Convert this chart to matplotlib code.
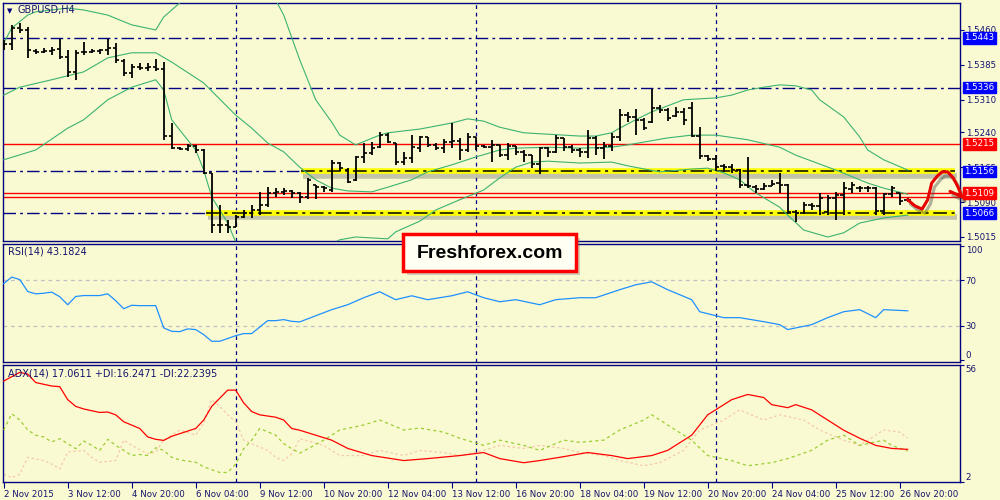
import matplotlib
matplotlib.use("Agg")
import matplotlib.pyplot as plt
import matplotlib.patheffects as pe
import matplotlib.transforms as mtransforms
from matplotlib.patches import Rectangle

# ---- GBPUSD H4 bars ----
highs = [1.5439, 1.5471, 1.5475, 1.5466, 1.5419, 1.5421, 1.5423, 1.5441, 1.5417, 1.5417,
         1.5434, 1.5419, 1.5419, 1.5441, 1.5432, 1.5398, 1.5387, 1.5389, 1.5389, 1.5398,
         1.5391, 1.5260, 1.5208, 1.5215, 1.5213, 1.5204, 1.5153, 1.5084, 1.5052, 1.5062,
         1.5073, 1.5084, 1.5112, 1.5122, 1.5120, 1.5120, 1.5116, 1.5112, 1.5142, 1.5127,
         1.5125, 1.5181, 1.5176, 1.5163, 1.5189, 1.5217, 1.5219, 1.5241, 1.5239, 1.5217,
         1.5198, 1.5234, 1.5232, 1.5230, 1.5217, 1.5226, 1.5260, 1.5228, 1.5239, 1.5230,
         1.5213, 1.5224, 1.5213, 1.5217, 1.5211, 1.5202, 1.5191, 1.5208, 1.5208, 1.5234,
         1.5228, 1.5213, 1.5206, 1.5245, 1.5232, 1.5219, 1.5239, 1.5290, 1.5284, 1.5290,
         1.5271, 1.5333, 1.5299, 1.5292, 1.5294, 1.5292, 1.5305, 1.5251, 1.5191, 1.5191,
         1.5172, 1.5172, 1.5161, 1.5187, 1.5127, 1.5131, 1.5138, 1.5153, 1.5129, 1.5073,
         1.5090, 1.5088, 1.5110, 1.5105, 1.5112, 1.5133, 1.5133, 1.5125, 1.5125, 1.5122,
         1.5110, 1.5125, 1.5110, 1.5099]
lows = [1.5417, 1.5417, 1.5454, 1.5400, 1.5408, 1.5411, 1.5406, 1.5398, 1.5359, 1.5353,
        1.5406, 1.5411, 1.5408, 1.5406, 1.5389, 1.5361, 1.5357, 1.5374, 1.5372, 1.5372,
        1.5224, 1.5204, 1.5202, 1.5200, 1.5196, 1.5150, 1.5024, 1.5024, 1.5024, 1.5036,
        1.5056, 1.5056, 1.5062, 1.5079, 1.5101, 1.5105, 1.5099, 1.5088, 1.5097, 1.5097,
        1.5112, 1.5112, 1.5157, 1.5131, 1.5135, 1.5174, 1.5191, 1.5206, 1.5217, 1.5170,
        1.5170, 1.5174, 1.5198, 1.5208, 1.5202, 1.5196, 1.5206, 1.5181, 1.5198, 1.5202,
        1.5206, 1.5176, 1.5187, 1.5181, 1.5191, 1.5176, 1.5163, 1.5150, 1.5187, 1.5196,
        1.5200, 1.5196, 1.5187, 1.5185, 1.5191, 1.5183, 1.5200, 1.5221, 1.5262, 1.5234,
        1.5245, 1.5260, 1.5282, 1.5264, 1.5273, 1.5256, 1.5230, 1.5183, 1.5178, 1.5157,
        1.5155, 1.5153, 1.5120, 1.5120, 1.5110, 1.5116, 1.5125, 1.5110, 1.5064, 1.5047,
        1.5064, 1.5073, 1.5062, 1.5062, 1.5052, 1.5062, 1.5110, 1.5112, 1.5112, 1.5062,
        1.5062, 1.5101, 1.5084, 1.5090]
opens = [1.5421, 1.5430, 1.5464, 1.5460, 1.5415, 1.5413, 1.5415, 1.5419, 1.5402, 1.5370,
         1.5413, 1.5413, 1.5415, 1.5417, 1.5421, 1.5393, 1.5368, 1.5380, 1.5378, 1.5380,
         1.5376, 1.5232, 1.5206, 1.5204, 1.5211, 1.5202, 1.5153, 1.5041, 1.5041, 1.5036,
         1.5058, 1.5067, 1.5073, 1.5084, 1.5110, 1.5112, 1.5114, 1.5110, 1.5101, 1.5127,
         1.5122, 1.5116, 1.5174, 1.5159, 1.5138, 1.5187, 1.5196, 1.5208, 1.5234, 1.5217,
         1.5176, 1.5185, 1.5206, 1.5230, 1.5213, 1.5206, 1.5219, 1.5221, 1.5202, 1.5230,
         1.5211, 1.5208, 1.5213, 1.5191, 1.5211, 1.5198, 1.5191, 1.5172, 1.5206, 1.5198,
         1.5228, 1.5208, 1.5202, 1.5198, 1.5228, 1.5206, 1.5211, 1.5230, 1.5277, 1.5273,
         1.5267, 1.5262, 1.5292, 1.5288, 1.5275, 1.5284, 1.5292, 1.5232, 1.5189, 1.5183,
         1.5168, 1.5165, 1.5159, 1.5127, 1.5122, 1.5118, 1.5125, 1.5131, 1.5127, 1.5069,
         1.5067, 1.5084, 1.5082, 1.5069, 1.5099, 1.5105, 1.5118, 1.5120, 1.5120, 1.5120,
         1.5071, 1.5107, 1.5110, 1.5095]
closes = [1.5430, 1.5464, 1.5460, 1.5417, 1.5413, 1.5415, 1.5417, 1.5402, 1.5370, 1.5411,
          1.5413, 1.5415, 1.5417, 1.5421, 1.5396, 1.5368, 1.5380, 1.5378, 1.5380, 1.5376,
          1.5232, 1.5206, 1.5204, 1.5211, 1.5202, 1.5153, 1.5041, 1.5041, 1.5036, 1.5058,
          1.5067, 1.5073, 1.5084, 1.5110, 1.5112, 1.5114, 1.5110, 1.5101, 1.5138, 1.5122,
          1.5120, 1.5174, 1.5163, 1.5133, 1.5187, 1.5196, 1.5206, 1.5234, 1.5219, 1.5176,
          1.5185, 1.5208, 1.5230, 1.5213, 1.5206, 1.5219, 1.5221, 1.5202, 1.5230, 1.5211,
          1.5208, 1.5213, 1.5191, 1.5211, 1.5198, 1.5191, 1.5172, 1.5206, 1.5198, 1.5228,
          1.5208, 1.5202, 1.5198, 1.5228, 1.5206, 1.5211, 1.5230, 1.5277, 1.5273, 1.5267,
          1.5249, 1.5292, 1.5288, 1.5271, 1.5284, 1.5267, 1.5232, 1.5189, 1.5183, 1.5165,
          1.5165, 1.5159, 1.5127, 1.5125, 1.5118, 1.5125, 1.5129, 1.5127, 1.5069, 1.5067,
          1.5084, 1.5082, 1.5099, 1.5099, 1.5105, 1.5120, 1.5127, 1.5120, 1.5120, 1.5071,
          1.5107, 1.5120, 1.5092, 1.5095]

# Bollinger bands (sampled at bar indices)
bb_up_idx = [0, 1, 3, 4, 8, 10, 13, 16, 19, 20, 22, 24, 27, 31, 33, 35, 37, 39, 41, 42,
             44, 47, 48, 52, 56, 58, 60, 62, 65, 68, 72, 74, 76, 77, 79, 81, 85, 89, 91, 93,
             95, 97, 99, 101, 102, 105, 107, 108, 110, 113]
bb_up = [1.5432, 1.5464, 1.5492, 1.5499, 1.5507, 1.5503, 1.5492, 1.5471, 1.5460, 1.5488,
         1.5518, 1.5568, 1.5611, 1.5611, 1.5557, 1.5492, 1.5396, 1.5310, 1.5262, 1.5234,
         1.5213, 1.5234, 1.5239, 1.5247, 1.5260, 1.5269, 1.5264, 1.5251, 1.5239, 1.5236,
         1.5232, 1.5232, 1.5239, 1.5249, 1.5267, 1.5284, 1.5310, 1.5314, 1.5320, 1.5331,
         1.5337, 1.5342, 1.5340, 1.5331, 1.5310, 1.5273, 1.5230, 1.5202, 1.5181, 1.5159]
bb_mid_idx = [0, 2, 6, 10, 13, 16, 19, 21, 25, 29, 31, 33, 35, 37, 39, 41, 43, 46, 48, 51,
              53, 56, 59, 62, 64, 68, 72, 76, 78, 83, 86, 89, 93, 97, 99, 104, 108, 110, 113]
bb_mid = [1.5320, 1.5337, 1.5353, 1.5370, 1.5400, 1.5411, 1.5411, 1.5391, 1.5346, 1.5277,
          1.5249, 1.5217, 1.5198, 1.5165, 1.5138, 1.5120, 1.5114, 1.5112, 1.5122, 1.5138,
          1.5155, 1.5170, 1.5187, 1.5202, 1.5206, 1.5208, 1.5206, 1.5208, 1.5213, 1.5228,
          1.5234, 1.5234, 1.5224, 1.5208, 1.5191, 1.5159, 1.5131, 1.5120, 1.5107]
bb_lo_idx = [0, 4, 8, 10, 13, 16, 19, 20, 21, 22, 24, 25, 26, 28, 29, 31, 34, 37, 40, 42,
             44, 48, 49, 52, 54, 57, 60, 62, 64, 66, 68, 72, 76, 78, 82, 86, 88, 90, 92, 94,
             97, 98, 100, 103, 105, 107, 110, 113]
bb_lo = [1.5181, 1.5202, 1.5249, 1.5267, 1.5310, 1.5337, 1.5353, 1.5331, 1.5267, 1.5245,
         1.5202, 1.5159, 1.5101, 1.5045, 1.5004, 1.4976, 1.4961, 1.4970, 1.4991, 1.5009,
         1.5015, 1.5011, 1.5026, 1.5049, 1.5073, 1.5095, 1.5116, 1.5142, 1.5165, 1.5176,
         1.5178, 1.5174, 1.5176, 1.5168, 1.5155, 1.5161, 1.5163, 1.5153, 1.5138, 1.5110,
         1.5079, 1.5062, 1.5030, 1.5015, 1.5024, 1.5045, 1.5056, 1.5062]

# RSI(14)
rsi_idx = list(range(38)) + [41, 43, 45, 47, 49, 51, 53, 56, 58, 60, 62, 64, 67, 69, 72, 74,
                             77, 79, 81, 83, 86, 87, 90, 92, 95, 97, 98, 101, 103, 105, 107,
                             109, 110, 113]
rsi = [67, 72.6, 70.5, 60, 58, 58.5, 59.5, 55.5, 48.5, 55.7, 56.5, 56.5, 56.5, 58, 52, 45,
       48, 47.7, 47.7, 47.7, 28.3, 25.3, 25, 27.4, 26.8, 22.4, 16.6, 16.6, 19, 21.5, 23.3,
       23.3, 29, 34.6, 34.6, 35.5, 34, 33.5,
       44.2, 48.5, 54.6, 59.8, 52.9, 56.3, 52.9, 56.3, 59.8, 54.6, 51.1, 52.9, 48.5, 52.9,
       54.6, 54.6, 61.6, 65.9, 68.5, 61.6, 52.9, 42.4, 37.2, 37.2, 33.7, 31.1, 26.8, 31.1,
       37.2, 42.4, 44.2, 37.2, 44.2, 43.18]

# ADX(14), +DI, -DI
adx_idx = [0, 2, 3, 4, 6, 7, 8, 9, 10, 12, 13, 14, 15, 17, 18, 19, 20, 21, 24, 25, 26, 28,
           29, 30, 31, 32, 34, 35, 36, 37, 41, 43, 46, 50, 53, 57, 60, 62, 65, 67, 70, 73,
           76, 78, 81, 83, 86, 88, 91, 93, 95, 96, 98, 99, 101, 103, 105, 107, 109, 111, 113]
adx = [48.6, 52.6, 51.8, 47.9, 46.3, 46.0, 40.0, 36.9, 35.7, 34.1, 34.3, 33.0, 29.8, 26.7,
       22.8, 21.7, 21.2, 23.1, 26.7, 30.6, 36.9, 44.4, 44.4, 38.5, 34.5, 33.0, 31.9, 30.6,
       26.7, 25.9, 21.3, 17.5, 14.2, 11.9, 12.8, 14.2, 15.6, 12.8, 10.9, 11.9, 13.7, 15.6,
       14.2, 12.8, 14.2, 16.6, 23.6, 33.0, 40.0, 42.4, 41.0, 37.7, 36.3, 37.7, 35.3, 30.6,
       25.9, 22.2, 18.9, 17.5, 17.06]
pdi_idx = list(range(23)) + [24, 25, 27, 28, 29, 30, 31, 32, 34, 35, 36, 37, 40, 42, 45, 47,
                             50, 52, 55, 57, 60, 62, 65, 67, 70, 72, 75, 77, 80, 81, 83, 86,
                             88, 91, 93, 96, 98, 101, 103, 105, 107, 110, 111, 113]
pdi = [26.0, 33.5, 30.6, 26.0, 23.6, 22.8, 20.5, 22.0, 19.7, 17.4, 20.9, 18.9, 16.6, 21.7,
       18.9, 16.6, 14.2, 14.7, 14.2, 17.8, 16.6, 13.4, 12.2, 11.1, 9.0, 6.4, 6.4, 10.3, 17.4,
       21.3, 26.7, 23.6, 19.7, 17.4, 15.3,
       21.3, 26.0, 28.3, 30.6, 26.0, 26.9, 25.0, 22.2, 18.9, 21.3, 18.9, 16.6, 21.3, 20.3,
       21.3, 26.0, 30.6, 33.0, 28.3, 21.3, 14.2, 11.9, 9.5, 10.9, 12.8, 16.6, 21.3, 23.6,
       18.9, 21.3, 18.9, 16.25]
mdi_idx = [0, 1, 2, 3, 5, 6, 7, 8, 10, 11, 12, 14, 15, 16, 18, 19, 20, 21, 22, 24, 25, 26,
           27, 28, 29, 30, 32, 33, 34, 35, 36, 37, 40, 42, 45, 47, 50, 52, 55, 57, 60, 62,
           65, 67, 70, 72, 75, 77, 80, 82, 85, 87, 90, 92, 95, 97, 100, 102, 105, 107, 110,
           112, 113]
mdi = [5.6, 4.0, 5.6, 13.4, 11.9, 10.3, 8.0, 15.8, 16.6, 13.4, 11.1, 11.9, 21.3, 18.9, 15.0,
       15.8, 21.3, 23.6, 26.0, 23.6, 29.1, 40.0, 36.9, 33.0, 29.8, 21.3, 18.1, 16.6, 13.4,
       11.9, 15.0, 22.0,
       18.9, 14.2, 14.2, 16.6, 14.2, 16.6, 15.6, 14.2, 16.6, 18.9, 17.5, 18.9, 17.5, 15.6,
       14.2, 11.9, 9.5, 10.9, 16.6, 26.0, 30.6, 35.3, 30.6, 33.0, 30.6, 26.0, 21.3, 18.9,
       26.0, 25.0, 22.24]

time_labels = ["2 Nov 2015", "3 Nov 12:00", "4 Nov 20:00", "6 Nov 04:00", "9 Nov 12:00",
               "10 Nov 20:00", "12 Nov 04:00", "13 Nov 12:00", "16 Nov 20:00",
               "18 Nov 04:00", "19 Nov 12:00", "20 Nov 20:00", "24 Nov 04:00",
               "25 Nov 12:00", "26 Nov 20:00"]
price_ticks = [1.5460, 1.5385, 1.5310, 1.5240, 1.5165, 1.5090, 1.5015]
marked_levels = [1.5443, 1.5336, 1.5215, 1.5156, 1.5109, 1.5066]
marked_colors = ["#0000FF", "#0000FF", "#FF0000", "#0000FF", "#FF0000", "#0000FF"]
separators = [29, 59, 89]

# hand-drawn forecast arrow (bar index, price)
arrow_x = [113.0, 113.9, 114.8, 115.5, 116.0, 116.7, 117.3, 118.0, 118.7, 119.3, 119.8]
arrow_y = [1.5095, 1.5082, 1.5075, 1.5095, 1.5131, 1.5146, 1.5155, 1.5155, 1.5142, 1.5122,
           1.5101]

BG = "#FAFAD2"
NAVY = "#000080"
TXT = "#14146E"
GREEN = "#3CB371"
FS = 6.2

plt.rcParams["font.family"] = ["DejaVu Sans"]

fig = plt.figure(figsize=(10, 5), dpi=100, facecolor=BG)


def panel(top, bottom):
    ax = fig.add_axes([3 / 1000, 1 - bottom / 500, 957 / 1000, (bottom - top) / 500])
    ax.set_facecolor(BG)
    for s in ax.spines.values():
        s.set_color(NAVY)
        s.set_linewidth(1.0)
    ax.set_xlim(-0.09, 119.54)
    ax.yaxis.tick_right()
    ax.tick_params(axis="y", direction="out", length=3, width=0.8, color=NAVY,
                   labelcolor=TXT, labelsize=FS, pad=1)
    ax.tick_params(axis="x", bottom=False, labelbottom=False)
    for b in separators:
        ax.axvline(b, color=NAVY, lw=0.9, ls=(0, (3, 3)), zorder=1)
    return ax


ax = panel(3, 241)
ax_rsi = panel(244, 362)
ax_adx = panel(365, 482)

# ---- main panel ----
ax.set_ylim(1.50064, 1.55180)
ax.set_yticks(price_ticks)
ax.set_yticklabels([f"{p:.4f}" for p in price_ticks])

dd = (0, (9, 3, 2, 3))
ax.axhline(1.5443, color=NAVY, lw=1.0, ls=dd, zorder=2)
ax.axhline(1.5336, color=NAVY, lw=1.0, ls=dd, zorder=2)
ax.axhline(1.5215, color="#FF0000", lw=1.0, zorder=2)
ax.axhline(1.5109, color="#FF0000", lw=1.0, zorder=2)
ax.axhline(1.5100, color="#FF0000", lw=1.0, zorder=2)

shadow = [pe.SimpleLineShadow(offset=(1.5, -3.0), shadow_color="#606060", alpha=0.35),
          pe.Normal()]
for lvl, start in [(1.5156, 37.2), (1.5066, 25.3)]:
    ax.plot([-0.09, start], [lvl, lvl], color=NAVY, lw=1.0, ls=dd, zorder=2)
    ax.plot([start, 118.9], [lvl, lvl], color="#FFFF00", lw=4.0,
            solid_capstyle="butt", path_effects=shadow, zorder=2)
    ax.plot([start, 118.9], [lvl, lvl], color="black", lw=1.1, ls=dd, zorder=3)

ax.plot(bb_up_idx, bb_up, color=GREEN, lw=0.8, zorder=4)
ax.plot(bb_mid_idx, bb_mid, color=GREEN, lw=0.8, zorder=4)
ax.plot(bb_lo_idx, bb_lo, color=GREEN, lw=0.8, zorder=4)

idx = list(range(len(highs)))
ax.vlines(idx, lows, highs, color="black", lw=1.3, zorder=5)
ax.hlines(opens, [i - 0.4 for i in idx], idx, color="black", lw=1.2, zorder=5)
ax.hlines(closes, idx, [i + 0.4 for i in idx], color="black", lw=1.2, zorder=5)

arrow_fx = [pe.SimpleLineShadow(offset=(2, -3), shadow_color="#404040", alpha=0.4),
            pe.Normal()]
ax.plot(arrow_x, arrow_y, color="#E60000", lw=2.2, clip_on=False,
        solid_capstyle="round", solid_joinstyle="round", path_effects=arrow_fx, zorder=8)
ax.plot([118.3, arrow_x[-1]], [1.5113, arrow_y[-1]], color="#E60000", lw=2.2,
        clip_on=False, solid_capstyle="round", path_effects=arrow_fx, zorder=8)

tr = mtransforms.blended_transform_factory(ax.transAxes, ax.transData)
for lvl, col in zip(marked_levels, marked_colors):
    ax.text(1.0045, lvl, f"{lvl:.4f}", transform=tr, color="white", fontsize=FS,
            ha="left", va="center", zorder=9, clip_on=False,
            bbox=dict(boxstyle="square,pad=0.15", fc=col, ec=col))

fig.text(7 / 1000, 1 - 11 / 500, "▼", color=NAVY, fontsize=5, va="center")
fig.text(17 / 1000, 1 - 10 / 500, "GBPUSD,H4", color=TXT, fontsize=FS + 0.8, va="center")

# ---- RSI ----
ax_rsi.set_ylim(-1.5, 101.5)
ax_rsi.set_yticks([100, 70, 30, 0])
ax_rsi.axhline(70, color="#C0C0C0", lw=0.9, ls=(0, (3, 3)), zorder=1)
ax_rsi.axhline(30, color="#C0C0C0", lw=0.9, ls=(0, (3, 3)), zorder=1)
ax_rsi.plot(rsi_idx, rsi, color="#1E90FF", lw=0.9, zorder=3)
fig.text(8 / 1000, 1 - 252 / 500, "RSI(14) 43.1824", color=TXT, fontsize=FS + 0.8,
         va="center")

# ---- ADX ----
ax_adx.set_ylim(2, 56)
ax_adx.set_yticks([56, 2])
ax_adx.plot(mdi_idx, mdi, color="#F5C9A8", lw=0.9, ls=(0, (2, 2)), zorder=2)
ax_adx.plot(pdi_idx, pdi, color="#9ACD32", lw=0.9, ls=(0, (2.5, 2.5)), zorder=3)
ax_adx.plot(adx_idx, adx, color="#FF0000", lw=0.9, zorder=4)
fig.text(8 / 1000, 1 - 373 / 500, "ADX(14) 17.0611 +DI:16.2471 -DI:22.2395", color=TXT,
         fontsize=FS + 0.8, va="center")

# end labels of the sub-windows sit inside the window like in the terminal
for a in (ax_rsi, ax_adx):
    labs = a.get_yticklabels()
    labs[0].set_va("top")
    labs[-1].set_va("bottom")

ax_adx.set_xticks(range(0, 8 * len(time_labels), 8))
ax_adx.set_xticklabels(time_labels)
ax_adx.tick_params(axis="x", bottom=True, labelbottom=True, direction="out", length=4,
                   width=0.8, color=NAVY, labelcolor=TXT, labelsize=FS, pad=2)
for lab in ax_adx.get_xticklabels():
    lab.set_ha("left")

# ---- watermark box ----
fig.add_artist(Rectangle((407 / 1000, 1 - 275 / 500), 173 / 1000, 37 / 500,
                         transform=fig.transFigure, fc="#808080", ec="none", alpha=0.35,
                         zorder=10))
fig.add_artist(Rectangle((403 / 1000, 1 - 271 / 500), 173 / 1000, 37 / 500,
                         transform=fig.transFigure, fc="#FFFFF4", ec="#FF0000", lw=2.5,
                         zorder=11))
fig.text(490 / 1000, 1 - 253 / 500, "Freshforex.com", color="black", fontsize=14,
         family="Liberation Sans", fontweight="bold", ha="center", va="center", zorder=12)

fig.savefig("out.png", dpi=100, facecolor=BG)
